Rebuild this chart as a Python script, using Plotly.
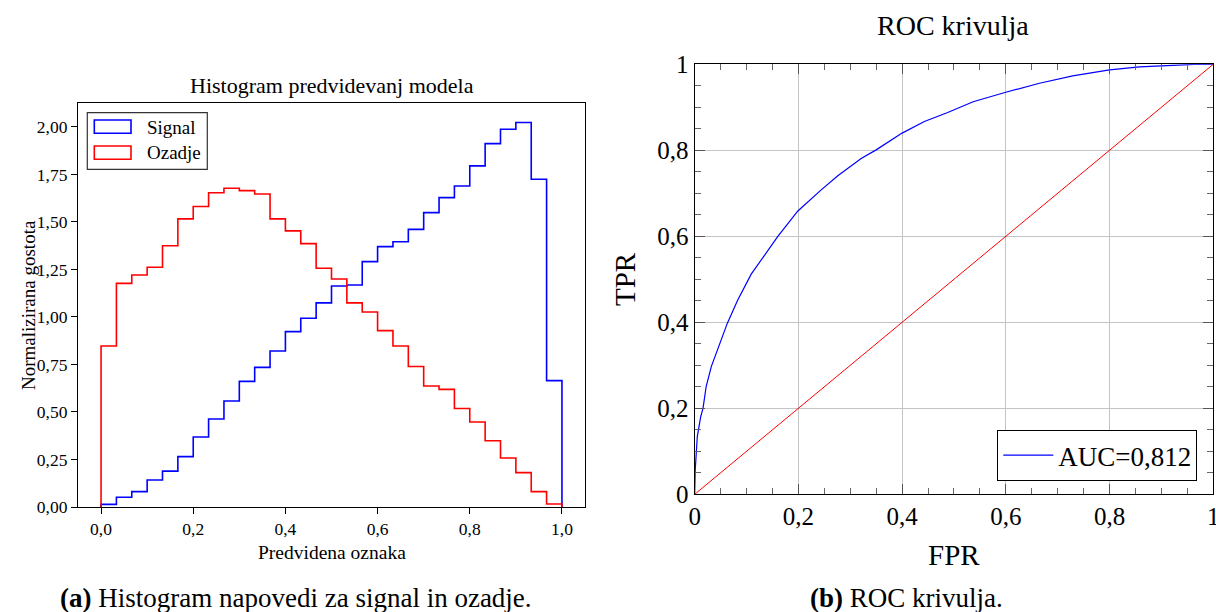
import numpy as np
import plotly.graph_objects as go

# ---------------- data ----------------
# Histogram (30 bins on [0, 1]) - normalised density
bin_edges = np.linspace(0.0, 1.0, 31)
signal_density = [0.014, 0.051, 0.081, 0.142, 0.189, 0.265, 0.368, 0.463, 0.558, 0.661,
                  0.735, 0.821, 0.923, 0.993, 1.074, 1.163, 1.168, 1.291, 1.370, 1.396,
                  1.461, 1.549, 1.628, 1.689, 1.795, 1.912, 1.988, 2.023, 1.725, 0.665]
background_density = [0.847, 1.177, 1.221, 1.262, 1.375, 1.516, 1.581, 1.654, 1.677, 1.665,
                      1.647, 1.516, 1.453, 1.386, 1.256, 1.200, 1.074, 1.026, 0.928, 0.847,
                      0.739, 0.637, 0.619, 0.518, 0.447, 0.349, 0.258, 0.181, 0.081, 0.016]
hist_xticks = [0.0, 0.2, 0.4, 0.6, 0.8, 1.0]
hist_xticklabels = ["0,0", "0,2", "0,4", "0,6", "0,8", "1,0"]
hist_yticks = [0.0, 0.25, 0.5, 0.75, 1.0, 1.25, 1.5, 1.75, 2.0]
hist_yticklabels = ["0,00", "0,25", "0,50", "0,75", "1,00", "1,25", "1,50", "1,75", "2,00"]

# ROC curve
fpr = [0.0, 0.001, 0.005, 0.0115, 0.016, 0.022, 0.032, 0.051, 0.063, 0.083, 0.109, 0.160,
       0.199, 0.244, 0.276, 0.321, 0.350, 0.400, 0.443, 0.488, 0.537, 0.600, 0.665, 0.729,
       0.800, 0.858, 0.922, 0.964, 1.0]
tpr = [0.0, 0.056, 0.134, 0.180, 0.200, 0.250, 0.297, 0.359, 0.398, 0.452, 0.512, 0.599,
       0.659, 0.708, 0.741, 0.781, 0.801, 0.840, 0.867, 0.888, 0.913, 0.935, 0.956, 0.973,
       0.987, 0.994, 0.998, 1.0, 1.0]
diag = [0.0, 1.0]
auc_label = "AUC=0,812"
roc_ticks = [0.0, 0.2, 0.4, 0.6, 0.8, 1.0]
roc_ticklabels = ["0", "0,2", "0,4", "0,6", "0,8", "1"]

# ---------------- helpers ----------------
W, H = 1216, 612
def px(x):
    return x / W
def py(y):
    return 1 - y / H

FONT = "Liberation Serif, Times New Roman, serif"

def step_xy(edges, vals):
    xs = [edges[0]] + list(edges[:-1]) + [edges[-1], edges[-1]]
    ys = [0.0] + list(vals) + [vals[-1], 0.0]
    return xs, ys

fig = go.Figure()

sx, sy = step_xy(bin_edges, signal_density)
bx, by = step_xy(bin_edges, background_density)
fig.add_trace(go.Scatter(x=sx, y=sy, mode="lines", line=dict(color="#0000ff", width=1.6, shape="hv"),
                         name="Signal", showlegend=False, xaxis="x", yaxis="y"))
fig.add_trace(go.Scatter(x=bx, y=by, mode="lines", line=dict(color="#ff0000", width=1.6, shape="hv"),
                         name="Ozadje", showlegend=False, xaxis="x", yaxis="y"))

fig.add_trace(go.Scatter(x=fpr, y=tpr, mode="lines", line=dict(color="#0000ff", width=1.2),
                         name=auc_label, showlegend=True, xaxis="x2", yaxis="y2"))
fig.add_trace(go.Scatter(x=diag, y=diag, mode="lines", line=dict(color="#ff0000", width=1.0),
                         name="diag", showlegend=False, xaxis="x2", yaxis="y2"))

left_axis_common = dict(showline=True, linecolor="black", linewidth=1.2, mirror=True,
                        ticks="outside", ticklen=6, tickwidth=1.2, tickcolor="black",
                        showgrid=False, zeroline=False, automargin=False,
                        tickfont=dict(family=FONT, size=17.5, color="black"))
roc_axis_common = dict(showline=True, linecolor="black", linewidth=1.3, mirror="allticks",
                       ticks="inside", ticklen=10, tickwidth=1, tickcolor="#555555",
                       showgrid=True, gridcolor="#c4c4c4", gridwidth=1, zeroline=False,
                       automargin=False, ticklabeloverflow="allow",
                       range=[0, 1], tickvals=roc_ticks, ticktext=roc_ticklabels,
                       minor=dict(tickmode="linear", tick0=0, dtick=0.05, ticks="inside",
                                  ticklen=6, tickwidth=1, tickcolor="#666666", showgrid=False),
                       tickfont=dict(family=FONT, size=25, color="black"))

fig.update_layout(
    width=W, height=H, margin=dict(l=0, r=0, t=0, b=0, autoexpand=False),
    paper_bgcolor="white", plot_bgcolor="white",
    xaxis=dict(domain=[px(78), px(585)], range=[-0.05, 1.05], anchor="y",
               tickvals=hist_xticks, ticktext=hist_xticklabels, **left_axis_common),
    yaxis=dict(domain=[py(507), py(103)], range=[0, 2.126], anchor="x",
               tickvals=hist_yticks, ticktext=hist_yticklabels, **left_axis_common),
    xaxis2=dict(domain=[px(694.7), px(1213.2)], anchor="y2", **roc_axis_common),
    yaxis2=dict(domain=[py(494.3), py(64.3)], anchor="x2", **roc_axis_common),
    legend=dict(x=px(1197.3), y=py(481), xanchor="right", yanchor="bottom",
                bordercolor="black", borderwidth=1, bgcolor="white", itemwidth=50,
                font=dict(family=FONT, size=27, color="black")),
    showlegend=True,
)

def ann(text, x, y, size, angle=0, xanchor="center"):
    fig.add_annotation(text=text, x=px(x), y=py(y), xref="paper", yref="paper",
                       showarrow=False, textangle=angle, xanchor=xanchor, yanchor="middle",
                       font=dict(family=FONT, size=size, color="black"))

# texts
ann("Histogram predvidevanj modela", 331.5, 86, 22)
ann("Predvidena oznaka", 331.5, 552, 19.5)
ann("Normalizirana gostota", 28, 305, 19, angle=-90)
ann("ROC krivulja", 953, 26, 28)
ann("FPR", 954, 555, 29)
ann("TPR", 625, 279, 29, angle=-90)
ann("<b>(a)</b> Histogram napovedi za signal in ozadje.", 296, 598, 27)
ann("<b>(b)</b> ROC krivulja.", 906.5, 598, 27)

# manual legend for histogram (matplotlib-style outline patches)
fig.add_shape(type="rect", xref="paper", yref="paper", x0=px(87.3), x1=px(207.3),
              y0=py(169.3), y1=py(112.7), line=dict(color="#333333", width=1.2),
              fillcolor="white", layer="above")
fig.add_shape(type="rect", xref="paper", yref="paper", x0=px(94.3), x1=px(131),
              y0=py(133.3), y1=py(120), line=dict(color="#0000ff", width=1.6), layer="above")
fig.add_shape(type="rect", xref="paper", yref="paper", x0=px(94.3), x1=px(131),
              y0=py(159.3), y1=py(146), line=dict(color="#ff0000", width=1.6), layer="above")
ann("Signal", 145, 127, 19, xanchor="left")
ann("Ozadje", 145, 152, 19, xanchor="left")

# remove the default page margin so the 1216x612 figure fills the window exactly
fig.write_html("out.html",
               config={"displayModeBar": False},
               post_script="document.body.style.margin='0';document.body.style.overflow='hidden';")
